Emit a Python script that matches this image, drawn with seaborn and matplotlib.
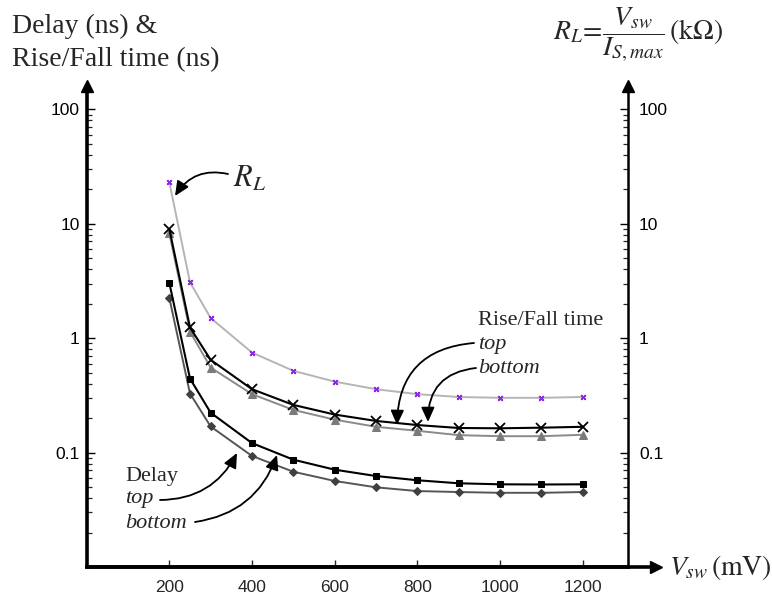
import matplotlib
matplotlib.use("Agg")
import matplotlib.pyplot as plt
from matplotlib.ticker import FixedLocator, LogLocator, NullFormatter
import seaborn as sns
import pandas as pd

# Swing voltage (mV)
vsw = [200, 250, 300, 400, 500, 600, 700, 800, 900, 1000, 1100, 1200]

# Delay (ns)
delay_top = [3.03, 0.443, 0.223, 0.121, 0.0867, 0.0709, 0.0624, 0.0573, 0.0539, 0.0528, 0.0526, 0.0528]
delay_bottom = [2.24, 0.328, 0.169, 0.0934, 0.068, 0.0565, 0.0497, 0.0461, 0.0452, 0.0445, 0.0445, 0.0452]

# Rise/Fall time (ns)
rise_top = [8.99, 1.24, 0.646, 0.358, 0.261, 0.215, 0.189, 0.174, 0.164, 0.163, 0.165, 0.168]
rise_bottom = [8.22, 1.14, 0.553, 0.324, 0.236, 0.194, 0.168, 0.155, 0.142, 0.139, 0.139, 0.143]

# Load resistance R_L (kOhm)
r_load = [23.0, 3.07, 1.50, 0.748, 0.518, 0.417, 0.358, 0.324, 0.306, 0.301, 0.301, 0.306]

y_ticks = [0.1, 1, 10, 100]
y_tick_labels = ["0.1", "1", "10", "100"]
x_ticks = [200, 400, 600, 800, 1000, 1200]

sns.set_style("white")
plt.rcParams["mathtext.fontset"] = "stix"
plt.rcParams["font.family"] = ["Liberation Serif", "DejaVu Serif"]

W, H = 772, 597
fig = plt.figure(figsize=(W / 100, H / 100), dpi=100)
ax_l, ax_r, ax_b, ax_t = 86.7, 628.0, 567.0, 92.0
ax = fig.add_axes([ax_l / W, 1 - ax_b / H, (ax_r - ax_l) / W, (ax_b - ax_t) / H])


def fpx(x, y):
    """Pixel position (from top-left) to figure fraction."""
    return (x / W, 1 - y / H)


series = [
    (r_load, dict(color="#b5b5b5", lw=1.4, marker=(4, 2, 45), ms=4.5,
                  mec="#8a2be2", mfc="#8a2be2", mew=1.2)),
    (rise_bottom, dict(color="#8a8a8a", lw=1.4, marker="^", ms=5.5,
                       mec="#7a7a7a", mfc="#7a7a7a")),
    (rise_top, dict(color="black", lw=1.5, marker="x", ms=6.5,
                    mec="black", mew=1.3)),
    (delay_bottom, dict(color="#555555", lw=1.4, marker="D", ms=3.8,
                        mec="#404040", mfc="#404040")),
    (delay_top, dict(color="black", lw=1.5, marker="s", ms=3.8,
                     mec="black", mfc="black")),
]
for values, style in series:
    df = pd.DataFrame({"vsw": vsw, "val": values})
    sns.lineplot(data=df, x="vsw", y="val", ax=ax, legend=False, **style)

ax.set_yscale("log")
ax.set_ylim(0.01, 141.6)
ax.set_xlim(0, 1310)
ax.set_xlabel("")
ax.set_ylabel("")

ax2 = ax.twinx()
ax2.set_yscale("log")
ax2.set_ylim(0.01, 141.6)

for a in (ax, ax2):
    a.yaxis.set_major_locator(FixedLocator(y_ticks))
    a.set_yticklabels(y_tick_labels)
    a.yaxis.set_minor_locator(LogLocator(base=10, subs=range(2, 10), numticks=20))
    a.yaxis.set_minor_formatter(NullFormatter())
    a.tick_params(axis="y", which="major", direction="in", length=6, width=1.0,
                  labelsize=12.5, colors="black")
    a.tick_params(axis="y", which="minor", direction="in", length=3.5, width=0.9)
    for lab in a.get_yticklabels():
        lab.set_family("Liberation Sans")
    for s in a.spines.values():
        s.set_visible(False)

ax.tick_params(axis="y", pad=5, left=True, right=False, which="both")
ax2.tick_params(axis="y", pad=8, right=True, left=False, which="both")

ax.xaxis.set_major_locator(FixedLocator(x_ticks))
ax.set_xticklabels([str(v) for v in x_ticks])
ax.tick_params(axis="x", direction="in", length=5, width=1.0, labelsize=12.5, pad=9,
               bottom=True)
for lab in ax.get_xticklabels():
    lab.set_family("Liberation Sans")

ax.spines["left"].set_visible(True)
ax.spines["left"].set_linewidth(2.6)
ax.spines["bottom"].set_visible(True)
ax.spines["bottom"].set_linewidth(2.6)
ax2.spines["right"].set_visible(True)
ax2.spines["right"].set_linewidth(1.8)
for s in ("left", "bottom"):
    ax.spines[s].set_color("black")
ax2.spines["right"].set_color("black")

# Axis arrowheads
ax.plot([0, 0], [1.0, 1.012], transform=ax.transAxes, color="black", lw=2.6,
        clip_on=False)
ax.plot([0], [1.012], marker="^", ms=9, color="black", transform=ax.transAxes,
        clip_on=False)
ax.plot([1], [1.012], marker="^", ms=9, color="black", transform=ax.transAxes,
        clip_on=False)
ax.plot([1, 1], [1.0, 1.012], transform=ax.transAxes, color="black", lw=1.8,
        clip_on=False)
ax.plot([0, 1.046], [0, 0], transform=ax.transAxes, color="black", lw=2.6,
        clip_on=False, solid_capstyle="butt")
ax.plot([1.052], [0], marker=">", ms=9, color="black", transform=ax.transAxes,
        clip_on=False)

# Axis titles
fig.text(*fpx(12, 33), "Delay (ns) &", fontsize=20, va="baseline", ha="left")
fig.text(*fpx(12, 66), "Rise/Fall time (ns)", fontsize=20, va="baseline", ha="left")
fig.text(*fpx(638, 35), r"$R_L\!=\!\dfrac{V_{sw}}{I_{S,max}}\,(\mathrm{k\Omega})$",
         fontsize=20, ha="center", va="center")
fig.text(*fpx(669, 568), r"$V_{sw}\,(\mathrm{mV})$", fontsize=20, ha="left",
         va="center")

# Curve labels
fig.text(*fpx(233, 179), r"$R_L$", fontsize=22, ha="left", va="center")
fig.text(*fpx(478, 325), "Rise/Fall time", fontsize=16, ha="left", va="baseline")
fig.text(*fpx(478, 349), "top", fontsize=16, style="italic", ha="left", va="baseline")
fig.text(*fpx(478, 373), "bottom", fontsize=16, style="italic", ha="left",
         va="baseline")
fig.text(*fpx(125, 481), "Delay", fontsize=16, ha="left", va="baseline")
fig.text(*fpx(125, 503), "top", fontsize=16, style="italic", ha="left", va="baseline")
fig.text(*fpx(125, 528), "bottom", fontsize=16, style="italic", ha="left",
         va="baseline")

arrow_kw = dict(arrowstyle="-|>,head_length=0.55,head_width=0.25", color="black",
                lw=1.3, shrinkA=0, shrinkB=0, mutation_scale=16)


def arrow(start, tip, rad):
    fig.add_artist(matplotlib.patches.FancyArrowPatch(
        posA=fpx(*start), posB=fpx(*tip), transform=fig.transFigure,
        connectionstyle=f"arc3,rad={rad}", **arrow_kw))


arrow((228, 174), (175, 196), 0.35)
arrow((474, 343), (397, 425), 0.45)
arrow((476, 368), (428, 422), 0.45)
arrow((160, 500), (237, 453), 0.3)
arrow((195, 522), (277, 455), 0.3)

fig.savefig("out.png", dpi=100)
